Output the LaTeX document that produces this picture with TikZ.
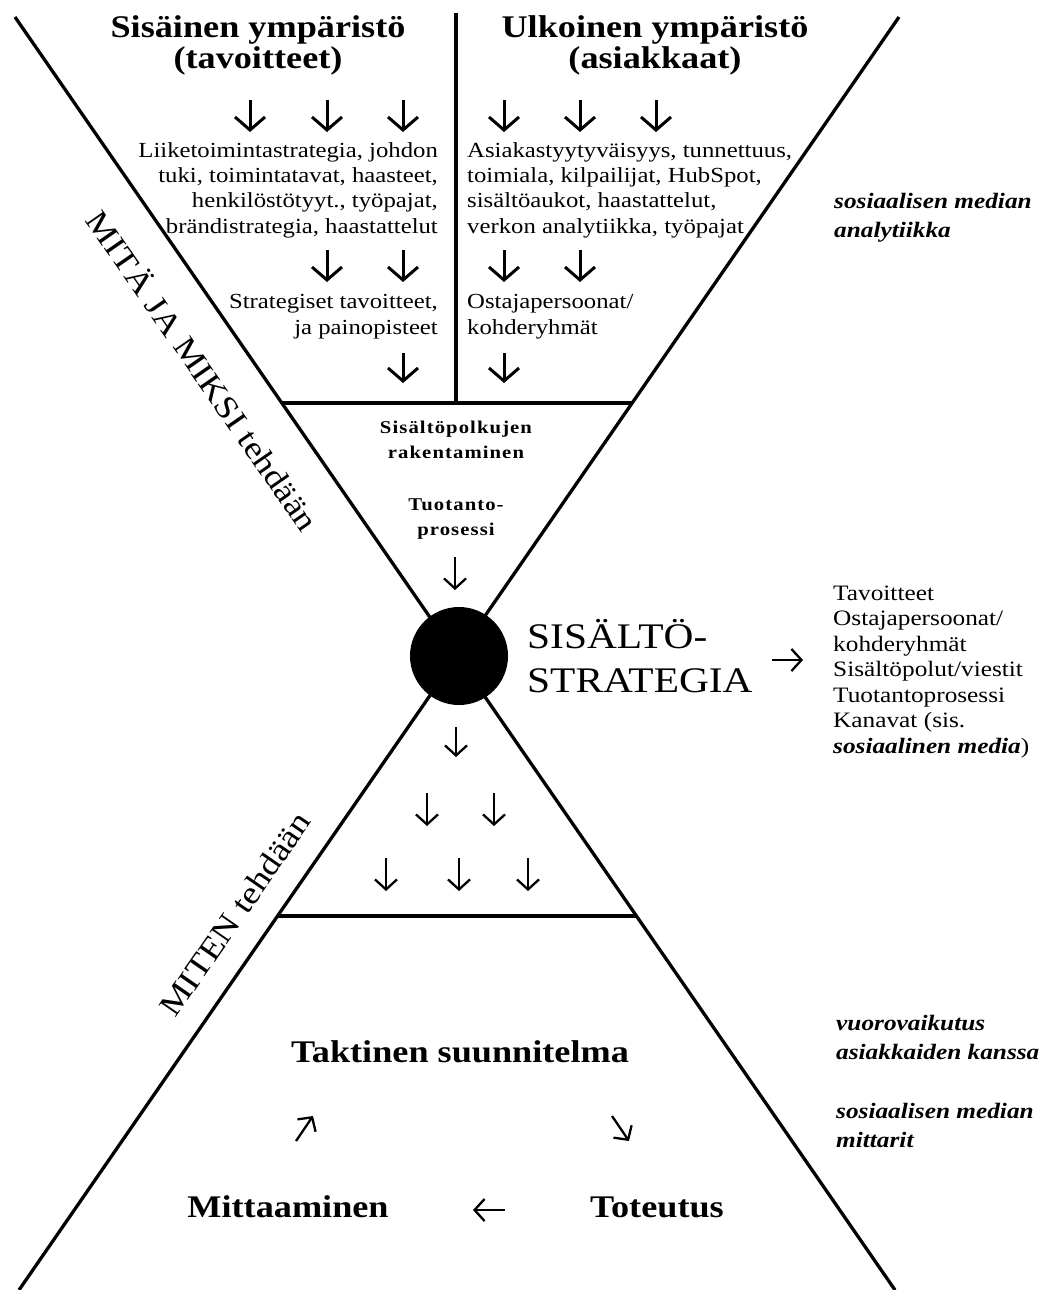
\documentclass[tikz,border=0pt]{standalone}
\usepackage{fontspec}
\setmainfont{Liberation Serif}[FakeStretch=1.15]
\usetikzlibrary{arrows.meta,calc,positioning}
\newcommand\fsz[2]{\fontsize{#1}{#2}\selectfont}

\begin{document}
\begin{tikzpicture}[x=1pt,y=-1pt,
 edge/.style={line width=3.3pt},
 arr/.style={line width=3pt,-{Straight Barb[length=13pt,width=30pt]}},
 sarr/.style={line width=2.3pt,-{Straight Barb[length=10pt,width=22pt]}},
 txt/.style={inner sep=0pt,font=\fsz{21.5}{25.3}},
 head/.style={inner sep=0pt,align=center,font=\bfseries\fsz{31.5}{31}},
 midtxt/.style={inner sep=0pt,align=center,font=\bfseries\fsz{18}{25}\addfontfeatures{LetterSpace=6}},
 side/.style={inner sep=0pt,align=left,font=\bfseries\itshape\fsz{22}{28.5}},
 cyc/.style={inner sep=0pt,font=\bfseries\fsz{31.5}{32}},
 slope/.style={inner sep=0pt,font=\fsz{32}{32}}]
\useasboundingbox (0,0) rectangle (1057,1290);

% hourglass frame
\coordinate (C) at (457,656);
\coordinate (TL) at (15,17);
\coordinate (TR) at (899,17);
\coordinate (BL) at (19,1290);
\coordinate (BR) at (895,1290);
\draw[edge] (TL) -- (BR);
\draw[edge] (TR) -- (BL);
\coordinate (upL) at (intersection of TL--C and 0,403--1000,403);
\coordinate (upR) at (intersection of TR--C and 0,403--1000,403);
\coordinate (loL) at (intersection of BL--C and 0,916--1000,916);
\coordinate (loR) at (intersection of BR--C and 0,916--1000,916);
\draw[edge] (upL) -- (upR);
\draw[edge] (loL) -- (loR);
\draw[edge] (456,13) -- (456,403);
\node[circle,fill=black,minimum size=98pt,inner sep=0pt] (core) at (459,656) {};

% top half (base anchors sit on the last line)
\node[head,anchor=base] (inner) at (258,68) {Sisäinen ympäristö\\(tavoitteet)};
\node[head,anchor=base] (outer) at (655,68) {Ulkoinen ympäristö\\(asiakkaat)};
\foreach \x in {250,327,403,504,580,656} \draw[arr] (\x,100) -- (\x,132);
\node[txt,anchor=base east,align=right] (intsrc) at (438,233)
 {Liiketoimintastrategia, johdon\\tuki, toimintatavat, haasteet,\\henkilöstötyyt., työpajat,\\brändistrategia, haastattelut};
\node[txt,anchor=base west,align=left] (extsrc) at (467,233)
 {Asiakastyytyväisyys, tunnettuus,\\toimiala, kilpailijat, HubSpot,\\sisältöaukot, haastattelut,\\verkon analytiikka, työpajat};
\foreach \x in {327,403,504,580} \draw[arr] (\x,250) -- (\x,282);
\node[txt,anchor=base east,align=right] (goals) at (438,334) {Strategiset tavoitteet,\\ja painopisteet};
\node[txt,anchor=base west,align=left] (personas) at (467,334) {Ostajapersoonat/\\kohderyhmät};
\foreach \x in {403,504} \draw[arr] (\x,353) -- (\x,383);
\node[side,anchor=base west] (smanalytics) at (834,237) {sosiaalisen median\\analytiikka};
\node[slope,rotate=-55.3] (whatwhy) at (204,370) {MITÄ JA MIKSI tehdään};

% funnel neck
\node[midtxt,anchor=base] (paths) at (456,458) {Sisältöpolkujen\\rakentaminen};
\node[midtxt,anchor=base] (prod) at (456,535) {Tuotanto-\\prosessi};
\draw[sarr] (455,557) -- (455,590);
\node[inner sep=0pt,align=left,font=\fsz{36}{44},anchor=base west] (strat) at (527,692) {SISÄLTÖ-\\STRATEGIA};
\node[inner sep=0pt,align=left,font=\fsz{22}{25.5},anchor=base west] (summary) at (833,753)
 {Tavoitteet\\Ostajapersoonat/\\kohderyhmät\\Sisältöpolut/viestit\\Tuotantoprosessi\\Kanavat (sis.\\\textbf{\textit{sosiaalinen media}})};
\draw[sarr] (772,660) -- (803,660);

% bottom half
\draw[sarr] (456,727) -- (456,757);
\foreach \x in {427,494} \draw[sarr] (\x,793) -- (\x,826);
\foreach \x in {386,459,528} \draw[sarr] (\x,858) -- (\x,891);
\node[slope,rotate=55.3] (how) at (235,914) {MITEN tehdään};
\node[cyc,anchor=base] (tactic) at (460,1062) {Taktinen suunnitelma};
\node[cyc,anchor=base] (measure) at (288,1217) {Mittaaminen};
\node[cyc,anchor=base] (execute) at (657,1217) {Toteutus};
\draw[sarr] (296,1141) -- (313,1116);
\draw[sarr] (612,1116) -- (629,1141);
\draw[sarr] (505,1210) -- (473,1210);
\node[side,anchor=base west] (interaction) at (836,1059) {vuorovaikutus\\asiakkaiden kanssa};
\node[side,anchor=base west] (smmetrics) at (836,1147) {sosiaalisen median\\mittarit};
\end{tikzpicture}
\end{document}
